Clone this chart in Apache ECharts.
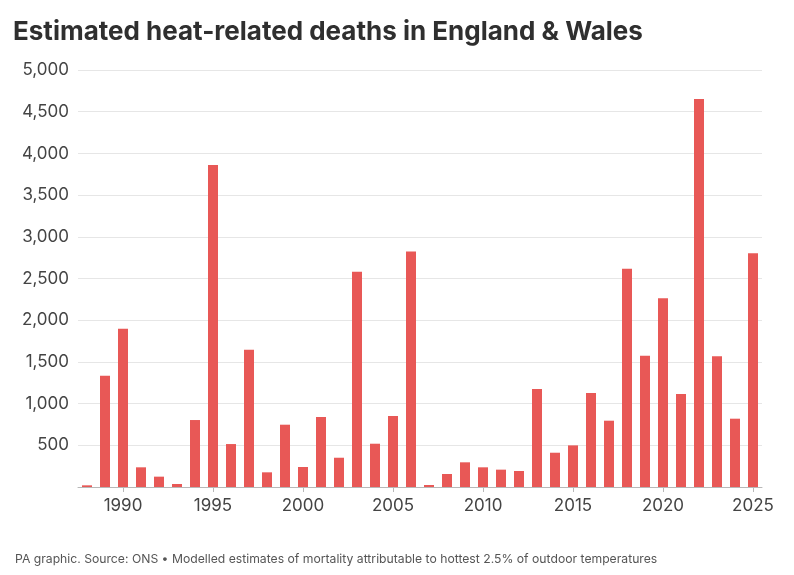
<!DOCTYPE html>
<html>
<head>
<meta charset="utf-8">
<script src="https://cdn.jsdelivr.net/npm/echarts@6/dist/echarts.min.js"></script>
<style>
  html, body { margin: 0; padding: 0; background: #fff; }
  #chart { width: 794px; height: 575px; }
</style>
</head>
<body>
<div id="chart"></div>
<script>
const YEARS = [];
for (let y = 1988; y <= 2025; y++) YEARS.push(String(y));

const DEATHS = [
  20, 1334, 1897, 236, 124, 36, 803, 3862, 515, 1645,
  176, 747, 240, 839, 351, 2580, 519, 851, 2823, 24,
  156, 296, 236, 208, 192, 1174, 411, 499, 1126, 795,
  2616, 1573, 2264, 1114, 4653, 1569, 819, 2803
];

const Y_MIN = 0;
const Y_MAX = 5000;
const Y_STEP = 500;

const TITLE = "Estimated heat-related deaths in England & Wales";
const FOOTER = "PA graphic. Source: ONS \u2022 Modelled estimates of mortality attributable to hottest 2.5% of outdoor temperatures";

const BAR_COLOR = "#e85856";
const TEXT_COLOR = "#444444";

function isLabelYear(index) {
  return Number(YEARS[index]) % 5 === 0;
}

const chart = echarts.init(document.getElementById("chart"));

chart.setOption({
  animation: false,
  backgroundColor: "#ffffff",
  title: [
    {
      text: TITLE,
      left: 8,
      top: 14,
      textStyle: {
        fontFamily: "Inter",
        fontWeight: 700,
        fontSize: 26,
        color: "#2f2f2f"
      }
    },
    {
      text: FOOTER,
      left: 10,
      top: 548,
      textStyle: {
        fontFamily: "Inter",
        fontWeight: 400,
        fontSize: 12.2,
        color: "#555555"
      }
    }
  ],
  grid: {
    left: 78,
    right: 32,
    top: 70,
    bottom: 88,
    containLabel: false
  },
  xAxis: {
    type: "category",
    data: YEARS,
    axisLine: { show: true, lineStyle: { color: "#b8b8b8", width: 1 } },
    axisTick: {
      show: true,
      alignWithLabel: true,
      length: 5,
      interval: (index) => isLabelYear(index),
      lineStyle: { color: "#b8b8b8" }
    },
    axisLabel: {
      interval: (index) => isLabelYear(index),
      fontFamily: "Inter",
      fontSize: 17,
      color: TEXT_COLOR,
      margin: 10
    },
    splitLine: { show: false }
  },
  yAxis: {
    type: "value",
    min: Y_MIN,
    max: Y_MAX,
    interval: Y_STEP,
    axisLine: { show: false },
    axisTick: { show: false },
    axisLabel: {
      fontFamily: "Inter",
      fontSize: 17,
      color: TEXT_COLOR,
      margin: 9,
      formatter: (value) => (value === 0 ? "" : value.toLocaleString("en-GB"))
    },
    splitLine: { show: true, lineStyle: { color: "#e6e6e6", width: 1 } }
  },
  series: [
    {
      type: "bar",
      data: DEATHS,
      barWidth: 10,
      itemStyle: { color: BAR_COLOR },
      silent: true
    }
  ]
});
</script>
</body>
</html>
